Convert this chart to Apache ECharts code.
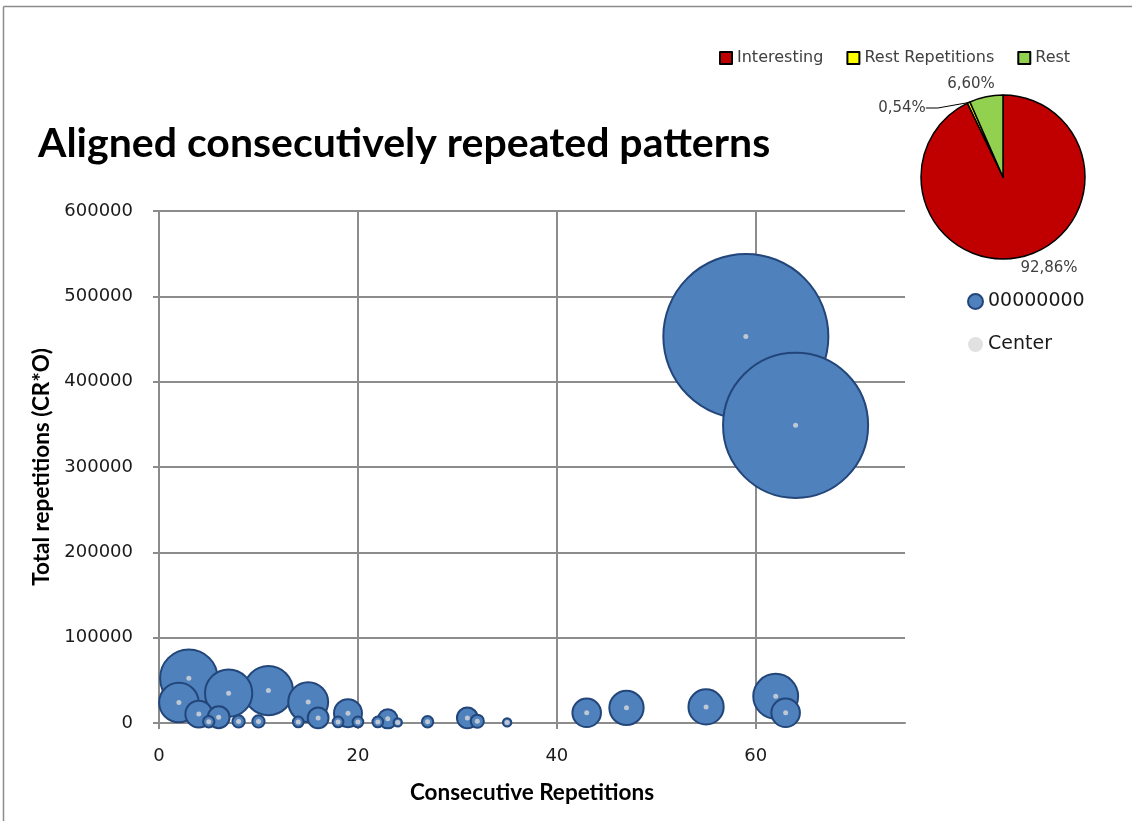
<!DOCTYPE html>
<html>
<head>
<meta charset="utf-8">
<script src="https://cdn.jsdelivr.net/npm/echarts@6/dist/echarts.min.js"></script>
<style>
  html, body { margin: 0; padding: 0; background: #fff; }
  #chart { width: 1132px; height: 821px; }
</style>
</head>
<body>
<div id="chart"></div>
<script>
// Consecutive repetition count (x) and total repetitions CR*O (y) per pattern group
const consecutive = [2, 3, 4, 5, 6, 7, 8, 10, 11, 14, 15, 16, 18, 19, 20, 22, 23, 24, 27, 31, 32, 35, 43, 47, 55, 59, 62, 63, 64];
const totals = [24000, 52500, 10500, 1500, 6700, 35000, 1800, 1800, 38000, 1300, 24500, 6000, 1300, 11500, 1300, 1300, 5000, 700, 1500, 6000, 2100, 700, 12000, 17800, 18800, 453000, 31300, 12000, 348800];

// Share of the alignment (percent)
const pieNames = ['Interesting', 'Rest Repetitions', 'Rest'];
const pieShares = [92.86, 0.54, 6.60];

// Axis tick labels
const xTicks = [0, 20, 40, 60];
const yTicks = [0, 100000, 200000, 300000, 400000, 500000, 600000];

const BLUE = '#4f81bd';
const EDGE = '#23467a';
const GRID = '#8c8c8c';
const TEXT = '#1a1a1a';

// Larger bubbles go first so smaller ones stay visible on top
const bubbles = consecutive.map((x, i) => [x, totals[i]]).sort((a, b) => b[1] - a[1]);
const centers = consecutive.map((x, i) => [x, totals[i]]);

// Bubble area proportional to the total
const bubbleSize = v => 2 * (0.1211 * Math.sqrt(v[1]) + 1);

const pieColors = ['#c00000', '#ffff00', '#92d050'];
const pieLabelAt = [[1049, 268], [902, 108], [971, 84]];

const chart = echarts.init(document.getElementById('chart'), null, { renderer: 'canvas' });

chart.setOption({
  animation: false,
  backgroundColor: '#ffffff',
  title: {
    text: 'Aligned consecutively repeated patterns',
    left: 33,
    top: 118,
    textStyle: { fontFamily: 'Lato', fontWeight: 'bold', fontSize: 41, color: '#000' }
  },
  graphic: [
    { type: 'line', shape: { x1: 3.5, y1: 6.5, x2: 1132, y2: 6.5 }, style: { stroke: GRID, lineWidth: 1.5 } },
    { type: 'line', shape: { x1: 3.5, y1: 6.5, x2: 3.5, y2: 821 }, style: { stroke: GRID, lineWidth: 1.5 } }
  ],
  legend: [
    {
      data: pieNames,
      left: 714,
      top: 45,
      icon: 'rect',
      itemWidth: 12,
      itemHeight: 12,
      itemGap: 23,
      selectedMode: false,
      textStyle: { fontFamily: 'DejaVu Sans', fontSize: 16, color: '#404040' }
    },
    {
      data: [
        { name: '00000000', icon: 'circle' },
        { name: 'Center', icon: 'circle', itemStyle: { borderWidth: 0 } }
      ],
      orient: 'vertical',
      left: 962,
      top: 287,
      itemWidth: 15,
      itemHeight: 15,
      itemGap: 24,
      selectedMode: false,
      textStyle: { fontFamily: 'DejaVu Sans', fontSize: 19, color: TEXT }
    }
  ],
  grid: { left: 159, right: 227, top: 211, bottom: 98 },
  xAxis: {
    type: 'value',
    min: 0,
    max: 75,
    name: 'Consecutive Repetitions',
    nameLocation: 'middle',
    nameGap: 58,
    nameTextStyle: { fontFamily: 'Lato', fontWeight: 'bold', fontSize: 22.5, color: '#000' },
    axisLine: { show: true, lineStyle: { color: GRID, width: 2 } },
    axisTick: { show: true, length: 6, customValues: xTicks, lineStyle: { color: GRID, width: 2 } },
    axisLabel: { customValues: xTicks, margin: 24, fontFamily: 'DejaVu Sans', fontSize: 18, color: TEXT, formatter: v => String(v) },
    splitLine: { show: true, lineStyle: { color: GRID, width: 2 } }
  },
  yAxis: {
    type: 'value',
    min: 0,
    max: 600000,
    name: 'Total repetitions (CR*O)',
    nameLocation: 'middle',
    nameGap: 101,
    nameRotate: 90,
    nameTextStyle: { fontFamily: 'Lato', fontWeight: 'bold', fontSize: 22.5, color: '#000' },
    axisLine: { show: true, lineStyle: { color: GRID, width: 2 } },
    axisTick: { show: true, length: 6, customValues: yTicks, lineStyle: { color: GRID, width: 2 } },
    axisLabel: { customValues: yTicks, margin: 26, fontFamily: 'DejaVu Sans', fontSize: 18, color: TEXT, formatter: v => String(v) },
    splitLine: { show: true, lineStyle: { color: GRID, width: 2 } }
  },
  series: [
    {
      name: '00000000',
      type: 'scatter',
      data: bubbles,
      symbol: 'circle',
      symbolSize: bubbleSize,
      itemStyle: { color: BLUE, borderColor: EDGE, borderWidth: 2, opacity: 1 },
      emphasis: { disabled: true },
      z: 2
    },
    {
      name: 'Center',
      type: 'scatter',
      data: centers,
      symbol: 'circle',
      symbolSize: 5,
      itemStyle: { color: '#d9d9d9' },
      emphasis: { disabled: true },
      z: 3
    },
    {
      name: 'Share',
      type: 'pie',
      center: [1003, 177],
      radius: 82,
      startAngle: 90,
      clockwise: true,
      silent: true,
      itemStyle: { borderColor: '#000', borderWidth: 1.5 },
      data: pieNames.map((n, i) => ({
        name: n,
        value: pieShares[i],
        itemStyle: { color: pieColors[i] },
        labelLine: { show: i === 1, length: 8, length2: 12, lineStyle: { color: '#000', width: 1 } }
      })),
      label: {
        show: true,
        position: 'outside',
        fontFamily: 'DejaVu Sans',
        fontSize: 15,
        color: '#404040',
        formatter: p => p.value.toFixed(2).replace('.', ',') + '%'
      },
      labelLayout: p => ({
        x: pieLabelAt[p.dataIndex][0],
        y: pieLabelAt[p.dataIndex][1],
        align: 'center',
        verticalAlign: 'middle'
      })
    }
  ]
});
</script>
</body>
</html>
